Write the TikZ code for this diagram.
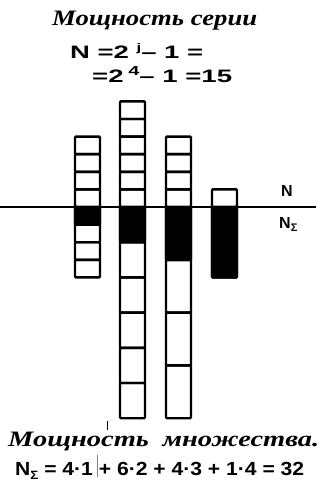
\documentclass[tikz,border=0pt]{standalone}
\usepackage{fontspec}
\usepackage{graphicx}
\setmainfont{Liberation Serif}
\newfontfamily\formfont{Liberation Sans}
% raised small exponent
\newcommand{\supr}[2][11]{\raisebox{0.42em}{\fontsize{#1}{#1}\selectfont #2}}
% stretch a text to a given width, keeping its height
\newcommand{\fitw}[2]{\resizebox{#1}{\height}{#2}}
\begin{document}
\begin{tikzpicture}[x=1pt,y=-1pt,
  cell/.style={draw=black,line width=2.4pt,rounded corners=1pt},
  filled/.style={cell,fill=black},
  ttl/.style={font=\fontsize{22}{22}\selectfont\bfseries\itshape,inner sep=0pt},
  frm/.style={font=\fontsize{18}{18}\selectfont\formfont\bfseries,inner sep=0pt},
  axlbl/.style={font=\fontsize{16}{16}\selectfont\formfont\bfseries,inner sep=0pt}]
\useasboundingbox[fill=white] (0,0) rectangle (322,481);
\def\u{17.6}
\def\ax{207}
% horizontal axis separating N (above) from N_Sigma (below)
\draw[line width=2pt] (0,\ax) coordinate (axl) -- (316,\ax) coordinate (axr);
% columns: left edge / cells above / cells below / size of a lower cell
\foreach \x/\na/\nb/\s in {75/4/4/1, 120/6/6/2, 166/4/4/3, 212/1/1/4}{
  \foreach \i in {1,...,\na}{
    \draw[cell] (\x,{\ax-\i*\u}) rectangle ({\x+25},{\ax-(\i-1)*\u});
  }
  \draw[filled] (\x,\ax) rectangle ({\x+25},{\ax+\s*\u});
  \foreach \k in {1,...,\nb}{
    \draw[cell] (\x,{\ax+(\k-1)*\s*\u}) rectangle ({\x+25},{\ax+\k*\s*\u});
  }
}
% labels
\node[ttl,anchor=base west] (t1) at (52,26) {\fitw{205pt}{Мощность серии}};
\node[frm,anchor=base west] (f1) at (70,59) {\fitw{133pt}{N =2 \supr{j}– 1 =}};
\node[frm,anchor=base west] (f2) at (92,83) {\fitw{140pt}{=2\,\supr[13]{4}– 1 =15}};
\node[axlbl,anchor=base west] (n1) at (281,196) {N};
\node[axlbl,anchor=base west] (n2) at (279,228) {N\raisebox{-0.2em}{\fontsize{11}{11}\selectfont Σ}};
\node[ttl,anchor=base west] (t2) at (8,446) {\fitw{311pt}{Мощность\hspace{5pt} множества.}};
\node[frm,font=\fontsize{19}{19}\selectfont\formfont\bfseries,anchor=base west] (f3) at (15,475)
  {\fitw{289pt}{N\raisebox{-0.25em}{\fontsize{12}{12}\selectfont Σ} = 4·1 + 6·2 + 4·3 + 1·4 = 32}};
% short stray marks near the second column
\coordinate (m1) at (107,421);
\coordinate (m2) at (107,430);
\draw[line width=1pt] (m1) -- (m2);
\coordinate (m3) at (97,455);
\coordinate (m4) at (97,477);
\draw[line width=1pt,gray] (m3) -- (m4);
\end{tikzpicture}
\end{document}
